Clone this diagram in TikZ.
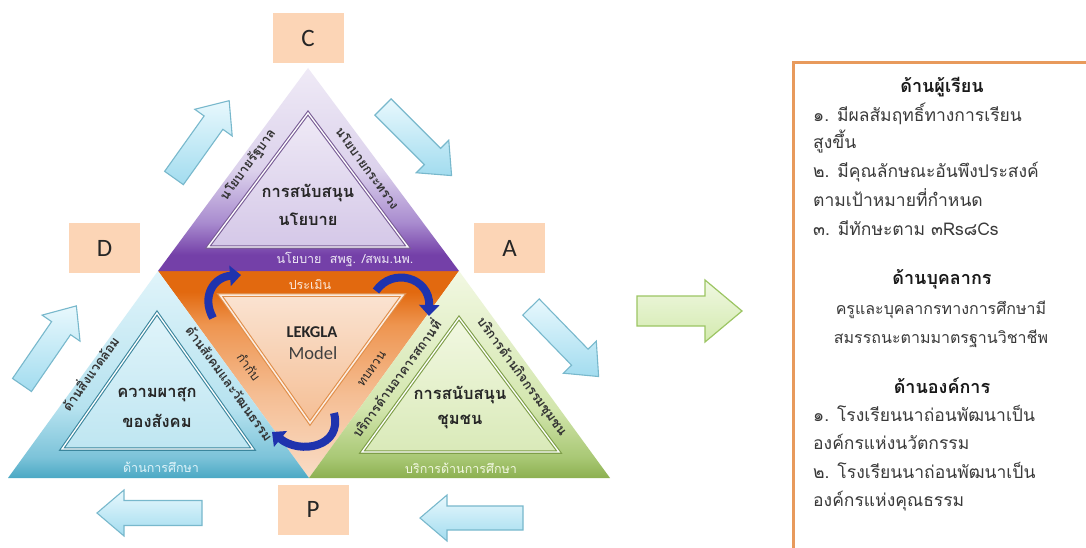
\documentclass[tikz,border=0pt]{standalone}
\usepackage{fontspec}
\setmainfont{Loma}[Script=Thai]
\newfontfamily\latinfont{Carlito}
\usetikzlibrary{arrows.meta}
\definecolor{boxfill}{HTML}{FCD5B6}
\definecolor{purpD}{HTML}{7440A8}
\definecolor{purpM}{HTML}{A98CCF}
\definecolor{purpL}{HTML}{DCD2EC}
\definecolor{purpT}{HTML}{EFEAF6}
\definecolor{cyD}{HTML}{4AA8C4}
\definecolor{cyM}{HTML}{7CC3D9}
\definecolor{cyL}{HTML}{B6E2EF}
\definecolor{cyT}{HTML}{E0F4FA}
\definecolor{grD}{HTML}{8CB050}
\definecolor{grM}{HTML}{A9C875}
\definecolor{grL}{HTML}{D3E6AE}
\definecolor{grT}{HTML}{F2F8E2}
\definecolor{orD}{HTML}{E2690F}
\definecolor{orM}{HTML}{EE9550}
\definecolor{orL}{HTML}{F5BE94}
\definecolor{orT}{HTML}{F9DCC6}
\definecolor{arrB}{HTML}{78B8CC}
\definecolor{arrL}{HTML}{E8F8FD}
\definecolor{arrD}{HTML}{A2DCEF}
\definecolor{gaB}{HTML}{9CC563}
\definecolor{gaL}{HTML}{F0F8E2}
\definecolor{gaD}{HTML}{D3EAAE}
\definecolor{cblue}{HTML}{1F33AE}
\definecolor{boxB}{HTML}{E89A5C}
\definecolor{txt}{HTML}{3A3A3A}
\pgfdeclareverticalshading{purpsh}{100bp}{color(0bp)=(purpD); color(25bp)=(purpD); color(29bp)=(purpD); color(37bp)=(purpM); color(50bp)=(purpL); color(75bp)=(purpT); color(100bp)=(purpT)}
\pgfdeclareverticalshading{cysh}{100bp}{color(0bp)=(cyD); color(25bp)=(cyD); color(30bp)=(cyM); color(42bp)=(cyL); color(75bp)=(cyT); color(100bp)=(cyT)}
\pgfdeclareverticalshading{grsh}{100bp}{color(0bp)=(grD); color(25bp)=(grD); color(30bp)=(grM); color(42bp)=(grL); color(75bp)=(grT); color(100bp)=(grT)}
\pgfdeclareverticalshading{orsh}{100bp}{color(0bp)=(orT); color(25bp)=(orT); color(45bp)=(orL); color(62bp)=(orM); color(70bp)=(orD); color(75bp)=(orD); color(100bp)=(orD)}
\newcommand{\barrow}[8]{%
  \begin{scope}[shift={(#2,#3)},rotate=#4]
    \path[#1] (0,-#6) -- ({#5-#8},-#6) -- ({#5-#8},-#7) -- (#5,0) -- ({#5-#8},#7) -- ({#5-#8},#6) -- (0,#6) -- cycle;
  \end{scope}}
\begin{document}
\begin{tikzpicture}[x=1pt,y=-1pt,
  letterbox/.style={fill=boxfill, minimum width=71pt, minimum height=50pt, inner sep=0pt, font=\latinfont\fontsize{25}{25}\selectfont, text=black!85},
  bluearr/.style={draw=arrB, line width=1.1pt, top color=arrL, bottom color=arrD, line join=miter},
  greenarr/.style={draw=gaB, line width=1.2pt, top color=gaL, bottom color=gaD, line join=miter},
  curvarr/.style={line width=8pt, draw=cblue, -{Triangle[length=11pt,width=20pt]}},
  ctext/.style={font=\fontsize{16.5}{20}\selectfont\bfseries, text=black!85, align=center},
  etext/.style={font=\fontsize{13}{14}\selectfont\bfseries, text=black!80, inner sep=0pt},
  btext/.style={font=\fontsize{12.5}{14}\selectfont, inner sep=0pt},
  rtext/.style={font=\fontsize{17.5}{20}\selectfont, text=txt, inner sep=0pt},
  rtextc/.style={font=\fontsize{16}{20}\selectfont, text=txt, inner sep=0pt},
  rhead/.style={font=\fontsize{18}{20}\selectfont\bfseries, text=black!90, inner sep=0pt}]
\useasboundingbox (0,0) rectangle (1086,548);
\fill[white] (0,0) rectangle (1086,548);
% main vertices
\coordinate (T) at (308,68);
\coordinate (L) at (8,478);
\coordinate (R) at (610,478);
\coordinate (ML) at (158,271);
\coordinate (MR) at (459,271);
\coordinate (MB) at (309,478);
% sub triangles
\shade[shading=orsh] (ML) -- (MR) -- (MB) -- cycle;
\shade[shading=purpsh] (T) -- (MR) -- (ML) -- cycle;
\shade[shading=cysh] (ML) -- (MB) -- (L) -- cycle;
\shade[shading=grsh] (MR) -- (R) -- (MB) -- cycle;
% inner triangles
\path[draw=purpD!55!gray, double=white, double distance=1.3pt, line width=1.1pt, top color=purpT, bottom color=purpL!85!purpM]
  (308,113) -- (408,247) -- (208,247) -- cycle;
\path[draw=cyD!80!black, double=white, double distance=1.3pt, line width=1.1pt, top color=cyT, bottom color=cyL!80!cyT]
  (157,313) -- (253,449) -- (62,449) -- cycle;
\path[draw=grD!90!black, double=white, double distance=1.3pt, line width=1.1pt, top color=grT, bottom color=grL!80!grT]
  (459,318) -- (559,452) -- (362,452) -- cycle;
\path[draw=orM!70!brown, double=orT!50!white, double distance=1.5pt, line width=1.1pt, top color=orT!80!white, bottom color=orL]
  (220,295) -- (403,295) -- (310,423) -- cycle;
% letter boxes
\node[letterbox] (C) at (308,38) {C};
\node[letterbox] (D) at (104.5,248) {D};
\node[letterbox] (A) at (509.5,248) {A};
\node[letterbox] (P) at (313,509.5) {P};
% block arrows
\barrow{bluearr}{174}{178}{54.5}{95}{11.5}{23}{27}
\barrow{bluearr}{383}{107}{-45}{97}{11.5}{23}{27}
\barrow{bluearr}{531}{307}{-45.8}{97}{11.5}{23}{27}
\barrow{bluearr}{22}{385}{55.5}{96}{11.5}{23}{27}
\barrow{bluearr}{202}{513}{180}{105}{12.5}{23}{27}
\barrow{bluearr}{523}{518}{180}{103}{12}{23}{27}
\barrow{greenarr}{637}{311}{0}{105}{15}{31}{37}
% curved arrows
\coordinate (ca1) at (213,318);
\coordinate (ca2) at (241,275);
\draw[curvarr] (ca1) .. controls (201,296) and (214,277) .. (ca2);
\coordinate (cb1) at (376,291);
\coordinate (cb2) at (429,316);
\draw[curvarr] (cb1) .. controls (392,267) and (430,277) .. (cb2);
\coordinate (cc1) at (334,413);
\coordinate (cc2) at (272,432);
\draw[curvarr] (cc1) .. controls (343,447) and (300,455) .. (cc2);
% top triangle texts
\node[ctext] (t1) at (308,193) {การสนับสนุน};
\node[ctext] (t2) at (308,219) {นโยบาย};
\node[etext, rotate=53.8] (t3) at (248.4,165) {นโยบายรัฐบาล};
\node[etext, rotate=-53.8] (t4) at (367.6,168) {นโยบายกระทรวง};
\node[btext, text=purpT] (t5) at (345,259) {นโยบาย\ \ สพฐ. /สพม.นพ.};
% centre texts
\node[btext, text=orT!60!white] (c1) at (310,285) {ประเมิน};
\node[font=\latinfont\bfseries\fontsize{16.5}{16.5}\selectfont, text=black!85, inner sep=0pt] (c2) at (312,332) {LEKGLA};
\node[font=\latinfont\fontsize{18.5}{18.5}\selectfont, text=black!75, inner sep=0pt] (c3) at (313,353) {Model};
\node[etext, rotate=-54, font=\fontsize{12.5}{13}\selectfont, text=black!85] (c4) at (249,367) {กำกับ};
\node[etext, rotate=54, font=\fontsize{12.5}{13}\selectfont, text=black!85] (c5) at (372,369) {ทบทวน};
% left triangle texts
\node[ctext] (l1) at (157,395) {ความผาสุก};
\node[ctext] (l2) at (157,421) {ของสังคม};
\node[etext, rotate=54.4] (l3) at (89.4,373) {ด้านสิ่งแวดล้อม};
\node[etext, rotate=-54.2] (l4) at (229.6,383) {ด้านสังคมและวัฒนธรรม};
\node[btext, text=cyT] (l5) at (161,467) {ด้านการศึกษา};
% right triangle texts
\node[ctext] (r1) at (460,395) {การสนับสนุน};
\node[ctext] (r2) at (460,422) {ชุมชน};
\node[etext, rotate=54] (r3) at (395.4,378) {บริการด้านอาคารสถานที่};
\node[etext, rotate=-54] (r4) at (521.6,377) {บริการด้านกิจกรรมชุมชน};
\node[btext, text=grT] (r5) at (461,468) {บริการด้านการศึกษา};
% right box
\draw[boxB, line width=3pt] (1100,63) -- (793,63) -- (793,560);
\node[rhead, anchor=base] (h1) at (942,93) {ด้านผู้เรียน};
\node[rtext, anchor=base west] (a1) at (813,122) {๑. มีผลสัมฤทธิ์ทางการเรียน};
\node[rtext, anchor=base west] (a2) at (813,149) {สูงขึ้น};
\node[rtext, anchor=base west] (a3) at (813,178) {๒. มีคุณลักษณะอันพึงประสงค์};
\node[rtext, anchor=base west] (a4) at (813,206) {ตามเป้าหมายที่กำหนด};
\node[rtext, anchor=base west] (a5) at (813,235) {๓. มีทักษะตาม ๓Rs๘Cs};
\node[rhead, anchor=base] (h2) at (942,284) {ด้านบุคลากร};
\node[rtextc, anchor=base] (b1) at (941,314) {ครูและบุคลากรทางการศึกษามี};
\node[rtextc, anchor=base] (b2) at (941,343) {สมรรถนะตามมาตรฐานวิชาชีพ};
\node[rhead, anchor=base] (h3) at (942,393) {ด้านองค์การ};
\node[rtext, anchor=base west] (d1) at (813,421) {๑. โรงเรียนนาถ่อนพัฒนาเป็น};
\node[rtext, anchor=base west] (d2) at (813,449) {องค์กรแห่งนวัตกรรม};
\node[rtext, anchor=base west] (d3) at (813,478) {๒. โรงเรียนนาถ่อนพัฒนาเป็น};
\node[rtext, anchor=base west] (d4) at (813,506) {องค์กรแห่งคุณธรรม};
\end{tikzpicture}
\end{document}
